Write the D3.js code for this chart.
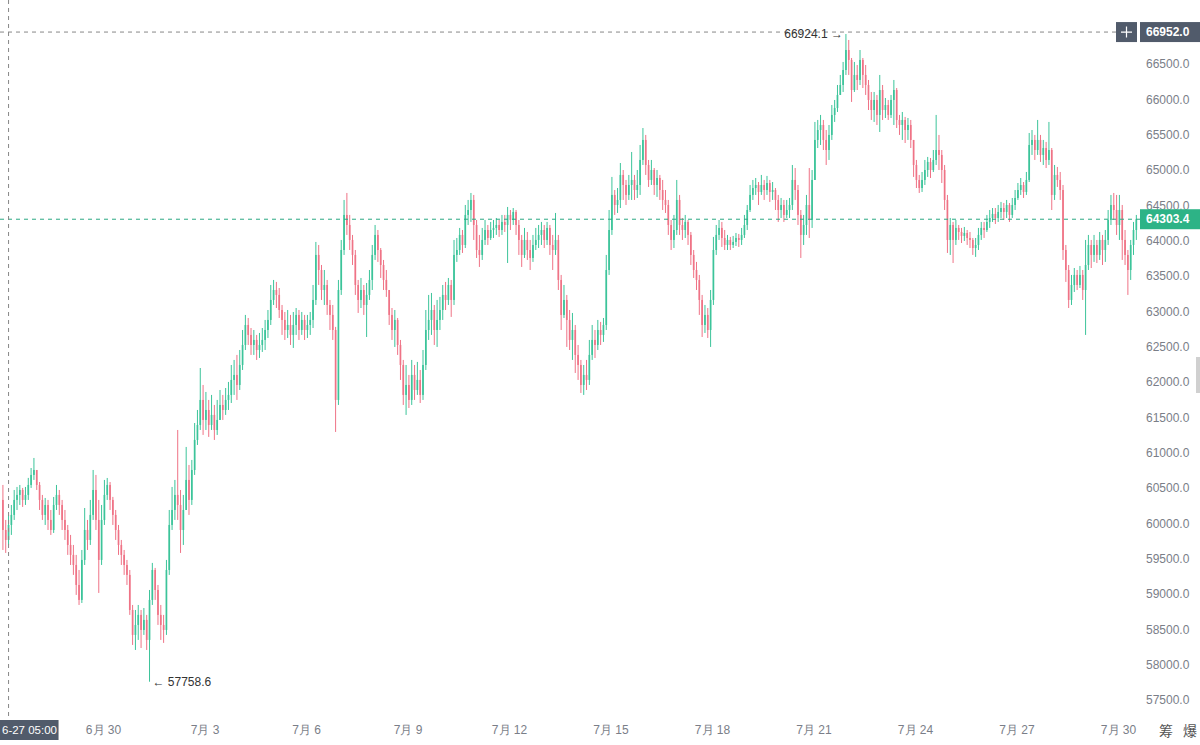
<!DOCTYPE html>
<html><head><meta charset="utf-8">
<script src="https://cdn.jsdelivr.net/npm/d3@7"></script>
<style>
html,body{margin:0;padding:0;background:#fff;overflow:hidden;}
svg{display:block;font-family:"Liberation Sans",Arial,sans-serif;}
</style></head><body>
<svg id="chart" width="1200" height="745"></svg>
<script>
// 2-hour candles, BTC, from 2024-06-27 00:00; open = previous close
const startTime = "2024-06-27T00:00:00";
const stepHours = 2;
const firstOpen = 60331;

const closes = [
  59906,59765,59977,60119,60331,60402,60472,60331,60402,60543,60685,60755,
  60543,60331,60119,60260,60048,59906,60260,60402,60260,60048,59906,59694,
  59553,59411,59128,58916,59482,59906,59765,60119,60472,60048,59482,60048,
  60402,60543,60331,60119,59906,59694,59553,59411,59270,58774,58421,58562,
  58704,58491,58633,58350,58916,59340,59057,58704,58562,58491,59340,59977,
  60189,60402,60260,59906,60189,60614,60331,60755,61180,61392,61746,61463,
  61604,61392,61534,61321,61463,61675,61604,61746,61817,62029,62100,61958,
  62241,62524,62807,62666,62524,62595,62453,62524,62595,62736,62878,63161,
  63302,63232,63019,62878,62736,62807,62666,62807,62949,62736,62878,62736,
  62807,62878,63161,63798,63585,63302,63373,63090,62949,62736,61746,63302,
  63868,64364,64222,64010,63798,63373,63161,63302,63090,63232,63444,63798,
  64081,63868,63656,63444,63302,62949,62736,62878,62524,62241,61817,61958,
  61746,62100,61887,62029,61817,62241,62736,62878,63019,62736,62878,63019,
  63232,63161,63373,63161,63798,63868,64081,63939,64364,64434,64576,64222,
  63868,63798,64010,64151,64038,64151,64180,64222,64151,64265,64222,64364,
  64293,64406,64222,64010,63798,64010,63868,63755,63939,64010,64081,64151,
  64010,64180,63939,63868,64010,63444,62949,63161,62878,62595,62736,62383,
  62241,61958,62100,62029,62383,62595,62524,62736,62666,62807,63585,64151,
  64647,64505,64576,64930,64788,64647,64788,64859,64717,64788,65142,65425,
  65071,64859,65000,64788,64887,64717,64576,64505,64222,64010,64151,64576,
  64222,64151,64265,64081,63798,63585,63444,63161,62807,62949,62736,63161,
  63868,64081,64180,64038,63939,64010,63939,63982,64038,64010,64081,64222,
  64434,64647,64745,64788,64689,64788,64717,64816,64689,64717,64576,64434,
  64505,64364,64434,64505,64859,64717,64364,64081,64222,64505,64293,64859,
  65425,65566,65637,65425,65283,65496,65779,65877,66062,66203,66415,66698,
  66557,66132,66345,66274,66557,66345,66203,65991,65849,65991,65779,66132,
  65849,65920,65779,65991,66132,65708,65637,65708,65566,65637,65425,65071,
  64859,64745,64859,65000,65114,65000,65142,65283,65213,65000,64576,64010,
  64222,64010,64180,64123,64067,64109,64038,64010,63896,63939,64081,64180,
  64151,64265,64321,64378,64321,64406,64462,64406,64505,64364,64505,64604,
  64717,64788,64689,64859,65354,65425,65283,65425,65213,65311,65142,65283,
  64647,64930,64859,64717,63868,63585,63161,63373,63515,63373,63515,63302,
  63656,63939,63798,63939,63798,64010,63868,64010,64293,64505,64434,64222,
  64434,64010,63798,63585,63939,64151,64303.4
];

const highs = [
  60543,60048,60119,60260,60472,60515,60543,60501,60515,60643,60783,60925,
  60755,60585,60402,60359,60331,60189,60373,60543,60472,60331,60189,59977,
  59836,59694,59553,59340,59623,60217,60048,60331,60755,60685,60331,60260,
  60614,60642,60585,60374,60189,59977,59765,59623,59482,59340,58845,58774,
  58845,58774,58802,58704,59057,59440,59369,59128,58845,58704,59482,60189,
  60515,60614,61321,60472,60402,61081,60826,60897,61420,61604,62198,61958,
  61859,61746,61817,61675,61746,61887,61817,61915,62001,62241,62312,62383,
  62453,62736,62949,62906,62764,62736,62666,62694,62764,62878,63019,63373,
  63444,63416,63330,63090,62991,63019,62949,62991,63047,63019,62991,62949,
  62949,62991,63373,63982,63939,63656,63585,63444,63161,63090,62780,63444,
  64010,64576,64675,64364,64081,63868,63444,63472,63373,63401,63585,63939,
  64222,64151,63896,63727,63585,63302,63047,63019,62906,62595,62312,62241,
  62100,62312,62241,62284,62170,62453,63019,63232,63260,63090,63161,63204,
  63373,63416,63472,63444,64010,64038,64180,64151,64505,64576,64675,64647,
  64293,64081,64180,64293,64222,64265,64293,64321,64293,64364,64364,64477,
  64434,64462,64434,64293,64081,64180,64123,64010,64081,64180,64222,64265,
  64222,64265,64222,64081,64392,64081,63515,63373,63232,63019,62977,62807,
  62524,62312,62241,62312,62595,62807,62736,62878,62850,62906,63798,64434,
  64902,64717,64745,65099,65000,64859,64930,65255,64930,65000,65354,65594,
  65496,65142,65142,65028,65000,64930,64859,64717,64576,64293,64364,64859,
  64647,64321,64364,64293,64123,63868,63699,63515,63232,63090,63047,63302,
  64053,64222,64293,64265,64151,64081,64053,64067,64109,64095,64180,64364,
  64505,64788,64859,64887,64830,64930,64859,64916,64859,64830,64745,64647,
  64604,64576,64576,64604,65071,65028,64788,64434,64364,64647,65028,65000,
  65680,65708,65779,65708,65566,65637,65920,65991,66203,66345,66529,66924.1,
  66840,66585,66529,66486,66698,66585,66486,66274,66104,66104,66062,66345,
  66203,66019,65991,66062,66274,66160,65779,65821,65751,65736,65708,65425,
  65142,64930,64972,65142,65185,65170,65283,65779,65496,65283,65071,64647,
  64321,64265,64293,64222,64180,64194,64151,64123,64038,64038,64180,64265,
  64265,64364,64434,64462,64462,64505,64548,64533,64576,64533,64604,64717,
  64816,64887,64830,64972,65524,65566,65496,65708,65496,65425,65397,65680,
  65311,65071,65043,64972,64788,63939,63656,63515,63613,63585,63642,63585,
  64010,64081,64010,64081,64010,64123,64081,64151,64434,64647,64675,64647,
  64647,64505,64151,63868,64010,64265,64364
];

const lows = [
  59623,59581,59694,59836,60048,60189,60260,60232,60260,60331,60501,60614,
  60472,60189,60048,59977,59906,59836,59864,60189,60119,59906,59765,59553,
  59411,59270,58987,58845,58873,59411,59623,59694,60048,59906,59015,59411,
  59977,60331,60189,59977,59765,59553,59411,59270,59128,58704,58279,58208,
  58350,58236,58421,58208,57758.6,58845,58916,58562,58350,58308,58421,59270,
  59906,60048,60048,59581,59694,60189,60119,60260,60685,61109,61321,61251,
  61321,61223,61321,61180,61251,61463,61463,61534,61604,61703,61817,61746,
  61887,62170,62453,62524,62383,62383,62312,62340,62425,62453,62623,62807,
  63090,63047,62906,62666,62595,62623,62524,62482,62666,62595,62666,62595,
  62623,62666,62764,63090,63373,63161,63090,62949,62736,62595,61293,61675,
  63232,63798,64081,63868,63656,63232,62977,63047,62949,62637,63161,63302,
  63727,63699,63472,63302,63204,62807,62595,62496,62383,62029,61675,61534,
  61632,61675,61746,61817,61703,61746,62170,62595,62666,62524,62496,62736,
  62878,63019,63090,62921,63090,63699,63798,63826,63896,64222,64265,64010,
  63755,63628,63727,63939,63939,64010,64038,64081,64053,64081,64123,63684,
  64151,64222,64081,63798,63628,63755,63727,63585,63699,63868,63896,63939,
  63896,63939,63798,63585,63798,63302,62736,62906,62496,62453,62312,62128,
  62029,61845,61817,61887,61958,62312,62340,62453,62524,62567,62736,63515,
  64081,64364,64392,64462,64576,64505,64576,64576,64576,64604,64647,65071,
  64930,64760,64788,64647,64619,64576,64434,64392,64081,63868,63896,64081,
  64081,64010,64038,63939,63656,63472,63302,62949,62637,62694,62623,62496,
  63090,63798,64010,63911,63868,63868,63868,63896,63925,63911,63939,64038,
  64151,64406,64576,64647,64505,64647,64576,64647,64548,64576,64434,64265,
  64321,64265,64321,64321,64434,64576,64222,63755,63939,64081,64038,64180,
  64859,65311,65354,65283,65071,65142,65425,65680,65821,66062,66104,66345,
  66345,65963,66104,66132,66203,66160,66062,65849,65708,65680,65637,65538,
  65708,65736,65708,65736,65637,65594,65496,65425,65382,65425,65311,64902,
  64745,64675,64689,64788,64902,64887,64972,65071,65000,64816,64434,63826,
  63798,63684,63939,64010,63967,63996,63939,63896,63798,63770,63868,64010,
  64038,64123,64180,64265,64236,64265,64321,64293,64321,64265,64321,64434,
  64576,64647,64604,64647,64830,65213,65142,65213,65114,65071,65028,65071,
  64434,64576,64760,64576,63727,63416,63047,63090,63274,63302,63330,63161,
  62666,63585,63613,63699,63684,63727,63656,63699,63939,64222,64293,64081,
  64010,63727,63656,63232,63444,63798,64010
];

const priceTicks = [57500,58000,58500,59000,59500,60000,60500,61000,61500,62000,
  62500,63000,63500,64000,64500,65000,65500,66000,66500];
const dateTicks = ["2024-06-30","2024-07-03","2024-07-06","2024-07-09","2024-07-12",
  "2024-07-15","2024-07-18","2024-07-21","2024-07-24","2024-07-27","2024-07-30"];
const viewEnd = "2024-07-30T15:36:00";

const crossTime = "2024-06-27T05:00:00";
const crossTimeLabel = "6-27 05:00";
const crossPrice = 66952.0;
const lastPrice = 64303.4;
const cornerText = ["筹", "爆"];

const upColor = "#3cc49a", downColor = "#ef7386";
const W = 1200, H = 745, plotRight = 1140, plotBottom = 718;

const svg = d3.select("#chart");
const t0 = new Date(startTime);
const hour = 3600 * 1000;

const candles = closes.map((c, i) => {
  const o = i === 0 ? firstOpen : closes[i - 1];
  return {
    t: new Date(t0.getTime() + i * stepHours * hour),
    o: o, c: c,
    h: Math.max(highs[i], o, c),
    l: Math.min(lows[i], o, c)
  };
});

const x = d3.scaleTime().domain([t0, new Date(viewEnd)]).range([1.5, plotRight]);
const y = d3.scaleLinear().domain([57500, 66500]).range([700, 64]);
const step = x(new Date(t0.getTime() + stepHours * hour)) - x(t0);
const bodyW = step * 0.6;
const cx = d => x(d.t) + step / 2;

// candles
const g = svg.append("g");
const cg = g.selectAll("g.c").data(candles).enter().append("g")
  .attr("fill", d => d.c >= d.o ? upColor : downColor)
  .attr("stroke", d => d.c >= d.o ? upColor : downColor);
cg.append("line")
  .attr("x1", cx).attr("x2", cx)
  .attr("y1", d => y(d.h)).attr("y2", d => y(d.l))
  .attr("stroke-width", 1);
cg.append("rect")
  .attr("x", d => cx(d) - bodyW / 2)
  .attr("width", bodyW)
  .attr("y", d => y(Math.max(d.o, d.c)))
  .attr("height", d => Math.max(1, Math.abs(y(d.o) - y(d.c))))
  .attr("stroke", "none");

// last price line
svg.append("line")
  .attr("x1", 0).attr("x2", plotRight)
  .attr("y1", y(lastPrice)).attr("y2", y(lastPrice))
  .attr("stroke", "#2aa883").attr("stroke-dasharray", "4,4").attr("stroke-width", 1);

// crosshair
const chx = x(new Date(crossTime));
svg.append("line")
  .attr("x1", 0).attr("x2", plotRight - 24)
  .attr("y1", y(crossPrice)).attr("y2", y(crossPrice))
  .attr("stroke", "#888").attr("stroke-dasharray", "4,4");
svg.append("line")
  .attr("x1", chx).attr("x2", chx)
  .attr("y1", 0).attr("y2", plotBottom)
  .attr("stroke", "#888").attr("stroke-dasharray", "4,4");

// price axis
const yAxis = svg.append("g")
  .attr("transform", `translate(${plotRight},0)`)
  .call(d3.axisRight(y).tickValues(priceTicks).tickFormat(d3.format(".1f")).tickSize(0).tickPadding(6));
yAxis.select(".domain").remove();
yAxis.selectAll("text").attr("fill", "#7a7e88").attr("font-size", 12);

// time axis
const fmt = d3.timeFormat("%-m月 %-d");
const xAxis = svg.append("g")
  .attr("transform", `translate(0,${plotBottom})`)
  .call(d3.axisBottom(x).tickValues(dateTicks.map(d => new Date(d + "T00:00:00"))).tickFormat(fmt).tickSize(0).tickPadding(7));
xAxis.select(".domain").remove();
xAxis.selectAll("text").attr("fill", "#7a7e88").attr("font-size", 12);

// high / low markers
const hi = d3.maxIndex(candles, d => d.h), lo = d3.minIndex(candles, d => d.l);
svg.append("text")
  .attr("x", cx(candles[hi]) - 3).attr("y", y(candles[hi].h)).attr("dy", "0.35em")
  .attr("text-anchor", "end").attr("font-size", 12).attr("fill", "#333")
  .text(d3.format(".1f")(candles[hi].h) + " →");
svg.append("text")
  .attr("x", cx(candles[lo]) + 3).attr("y", y(candles[lo].l)).attr("dy", "0.35em")
  .attr("font-size", 12).attr("fill", "#333")
  .text("← " + d3.format(".1f")(candles[lo].l));

// crosshair price label + button
const cpY = y(crossPrice);
svg.append("rect").attr("x", plotRight - 24).attr("y", cpY - 10).attr("width", 21).attr("height", 20).attr("fill", "#515b6b");
svg.append("path")
  .attr("d", `M${plotRight - 19},${cpY}H${plotRight - 8}M${plotRight - 13.5},${cpY - 5.5}V${cpY + 5.5}`)
  .attr("stroke", "#fff").attr("stroke-width", 1.2);
svg.append("rect").attr("x", plotRight).attr("y", cpY - 10).attr("width", W - plotRight).attr("height", 20).attr("fill", "#515b6b");
svg.append("text").attr("x", plotRight + 6).attr("y", cpY).attr("dy", "0.35em")
  .attr("font-size", 12).attr("font-weight", "bold").attr("fill", "#fff")
  .text(d3.format(".1f")(crossPrice));

// last price label
const lpY = y(lastPrice);
svg.append("rect").attr("x", plotRight).attr("y", lpY - 10).attr("width", W - plotRight).attr("height", 20).attr("fill", "#2db386");
svg.append("text").attr("x", plotRight + 6).attr("y", lpY).attr("dy", "0.35em")
  .attr("font-size", 12).attr("font-weight", "bold").attr("fill", "#fff")
  .text(d3.format(".1f")(lastPrice));

// crosshair time label (kept inside the left edge)
svg.append("rect").attr("x", 0).attr("y", plotBottom + 2).attr("width", chx + 50).attr("height", 20).attr("fill", "#515b6b");
svg.append("text").attr("x", 2).attr("y", plotBottom + 12).attr("dy", "0.35em")
  .attr("font-size", 11.5).attr("fill", "#fff")
  .text(crossTimeLabel);

// corner text
svg.selectAll("text.corner").data(cornerText).enter().append("text")
  .attr("class", "corner")
  .attr("x", (d, i) => 1166 + i * 24).attr("y", 731).attr("dy", "0.35em")
  .attr("text-anchor", "middle").attr("font-size", 14).attr("fill", "#555")
  .attr("font-family", "'Noto Sans CJK SC', sans-serif")
  .text(d => d);

// scrollbar tab on the right edge
svg.append("rect").attr("x", W - 4).attr("y", 357).attr("width", 4).attr("height", 36).attr("fill", "#d0d0d0");
</script>
</body></html>
